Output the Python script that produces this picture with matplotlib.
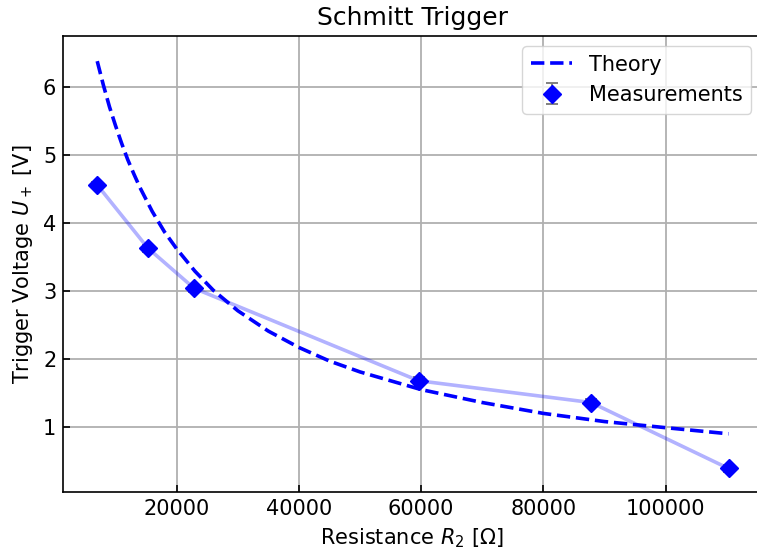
import matplotlib
matplotlib.use("Agg")
import matplotlib.pyplot as plt

# Measurements
r_meas = [7000, 15300, 22850, 59600, 87800, 110300]
u_meas = [4.56, 3.63, 3.04, 1.68, 1.36, 0.39]
u_err = [0.05, 0.05, 0.05, 0.05, 0.05, 0.05]

# Theory curve
r_theory = [7000, 8000, 9000, 10000, 11000, 12000, 13000, 14000, 16000, 18000, 20000,
            23000, 26000, 30000, 35000, 40000, 45000, 50000, 60000, 70000, 80000,
            90000, 100000, 110300]
u_theory = [6.38, 6.03, 5.71, 5.43, 5.17, 4.93, 4.72, 4.52, 4.17, 3.87, 3.62,
            3.29, 3.01, 2.71, 2.41, 2.17, 1.97, 1.81, 1.55, 1.36, 1.20,
            1.08, 0.99, 0.90]

fs = 15
plt.rcParams['font.family'] = ['DejaVu Sans']
plt.rcParams['font.size'] = fs

fig = plt.figure(figsize=(7.57, 5.52), dpi=100)
ax = fig.add_axes([63/757, 60/552, 1.0 - 63/757 + 0.006, (492-36)/552])

ax.plot(r_meas, u_meas, color='blue', alpha=0.3, lw=2.6, zorder=2)
ax.plot(r_theory, u_theory, '--', color='blue', lw=2.6, label='Theory', zorder=3)
ax.errorbar(r_meas, u_meas, yerr=u_err, fmt='D', color='blue', ms=9.5,
            ecolor='gray', elinewidth=1.4, capsize=4, capthick=1.4,
            label='Measurements', zorder=4)

ax.set_xlim(1400, 115700)
ax.set_ylim(0.044, 6.75)
ax.set_xticks([20000, 40000, 60000, 80000, 100000])
ax.set_yticks([1, 2, 3, 4, 5, 6])
ax.grid(True, color='#b0b0b0', lw=1.3)
ax.set_axisbelow(True)
ax.tick_params(direction='in', length=5, width=1.2, pad=4.8, labelsize=fs)
for s in ax.spines.values():
    s.set_linewidth(1.2)

ax.set_xlabel(r'Resistance $R_2$ [$\Omega$]', fontsize=fs, labelpad=5.5)
ax.set_ylabel(r'Trigger Voltage $U_+$ [V]', fontsize=fs, labelpad=5.5)
ax.set_title('Schmitt Trigger', fontsize=18, pad=8)
ax.legend(loc='upper right', fontsize=fs)

fig.savefig('out.png', dpi=100)
